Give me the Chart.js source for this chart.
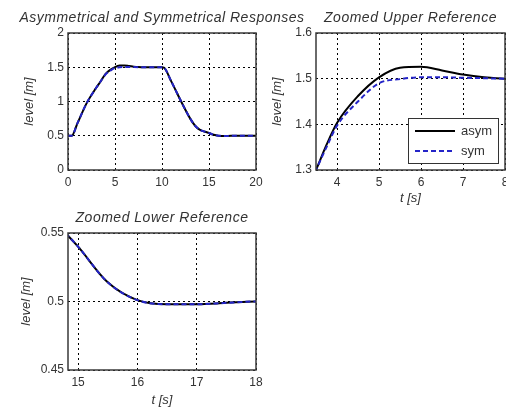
<!DOCTYPE html>
<html><head><meta charset="utf-8">
<script src="https://cdn.jsdelivr.net/npm/chart.js@4"></script>
<style>
html,body{margin:0;padding:0;background:#fff;}
#wrap{position:relative;width:506px;height:408px;overflow:hidden;}
canvas{position:absolute;left:0;top:0;}
</style></head><body>
<div id="wrap">
<canvas id="c1" width="506" height="408"></canvas>
<canvas id="c2" width="506" height="408"></canvas>
<canvas id="c3" width="506" height="408"></canvas>
</div>
<script>
// ---- data ----
const timeS = [0, 0.4, 1, 2, 3, 3.5, 3.75, 4, 4.5, 5, 5.5, 6, 6.5, 7, 7.5, 8, 10, 10.2, 11, 12, 12.5, 13, 13.5, 14, 14.5, 14.83, 15, 15.5, 16, 16.5, 17, 17.5, 18, 20];
const levelAsym = [0.5, 0.5, 0.68, 0.98, 1.2, 1.3, 1.355, 1.403, 1.462, 1.503, 1.524, 1.526, 1.518, 1.509, 1.503, 1.5, 1.5, 1.495, 1.29, 1.01, 0.875, 0.75, 0.65, 0.59, 0.562, 0.548, 0.54, 0.514, 0.501, 0.498, 0.498, 0.499, 0.5, 0.5];
const levelSym  = [0.5, 0.5, 0.68, 0.98, 1.2, 1.3, 1.35, 1.397, 1.45, 1.49, 1.499, 1.503, 1.503, 1.502, 1.501, 1.5, 1.5, 1.495, 1.29, 1.01, 0.875, 0.75, 0.65, 0.59, 0.562, 0.548, 0.54, 0.514, 0.501, 0.498, 0.498, 0.499, 0.5, 0.5];
const seriesLabels = ['asym', 'sym'];
const plotTitles = ['Asymmetrical and Symmetrical Responses', 'Zoomed Upper Reference', 'Zoomed Lower Reference'];
const xAxisTitle = 't [s]';
const yAxisTitle = 'level [m]';
const ticks1X = [0, 5, 10, 15, 20];
const ticks1Y = [0, 0.5, 1, 1.5, 2];
const ticks2X = [4, 5, 6, 7, 8];
const ticks2Y = [1.3, 1.4, 1.5, 1.6];
const ticks3X = [15, 16, 17, 18];
const ticks3Y = [0.45, 0.5, 0.55];
const range1X = [0, 20], range1Y = [0, 2];
const range2X = [3.5, 8], range2Y = [1.3, 1.6];
const range3X = [14.83, 18], range3Y = [0.45, 0.55];

const FONT = '"Liberation Sans", Arial, Helvetica, sans-serif';
const TXT = '#333';

const mframe = {
  id: 'mframe',
  afterDatasetsDraw(chart, args, opts) {
    const {ctx, chartArea: a} = chart;
    ctx.save();
    ctx.strokeStyle = '#3a3a3a';
    ctx.lineWidth = 1.5;
    ctx.strokeRect(a.left, a.top, a.right - a.left, a.bottom - a.top);
    ctx.fillStyle = TXT;
    ctx.font = 'italic 14px ' + FONT;
    ctx.letterSpacing = '0.5px';
    ctx.textAlign = 'center';
    ctx.textBaseline = 'middle';
    ctx.fillText(opts.title, (a.left + a.right) / 2, a.top - 15);
    ctx.letterSpacing = '0px';
    if (opts.legend) {
      const bx = a.right - 97, by = a.bottom - 52, bw = 90, bh = 45;
      ctx.fillStyle = '#fff';
      ctx.fillRect(bx, by, bw, bh);
      ctx.strokeStyle = '#333';
      ctx.lineWidth = 1;
      ctx.strokeRect(bx + 0.5, by + 0.5, bw, bh);
      const dsets = chart.data.datasets;
      seriesLabels.forEach((lab, i) => {
        const ds = dsets.find(d => d.label === lab);
        const yy = by + 13 + i * 20;
        ctx.strokeStyle = ds.borderColor;
        ctx.lineWidth = ds.borderWidth;
        ctx.setLineDash(ds.borderDash || []);
        ctx.beginPath(); ctx.moveTo(bx + 7, yy); ctx.lineTo(bx + 47, yy); ctx.stroke();
        ctx.setLineDash([]);
        ctx.fillStyle = TXT;
        ctx.font = '13px ' + FONT;
        ctx.textAlign = 'left';
        ctx.fillText(lab, bx + 53, yy);
      });
    }
    ctx.restore();
  }
};

function pts(ys) { return timeS.map((t, i) => ({x: t, y: ys[i]})); }

function makeChart(id, cfg) {
  const fixTicks = arr => scale => { scale.ticks = arr.map(v => ({value: v})); };
  const gridOpt = {color: '#000', lineWidth: 1, drawTicks: false};
  const borderOpt = {display: false, dash: [2, 3]};
  return new Chart(document.getElementById(id), {
    type: 'scatter',
    data: {
      datasets: [
        {label: seriesLabels[1], data: pts(levelSym), showLine: true, borderColor: '#2424c8', borderWidth: 2, borderDash: [5, 3], pointRadius: 0, cubicInterpolationMode: 'monotone', order: 0},
        {label: seriesLabels[0], data: pts(levelAsym), showLine: true, borderColor: '#000', borderWidth: 2, pointRadius: 0, cubicInterpolationMode: 'monotone', order: 1}
      ]
    },
    options: {
      responsive: false,
      animation: false,
      events: [],
      layout: {padding: cfg.pad},
      plugins: {legend: {display: false}, tooltip: {enabled: false}, title: {display: false},
        mframe: {title: cfg.title, legend: cfg.legend}},
      scales: {
        x: {
          type: 'linear', min: cfg.rx[0], max: cfg.rx[1],
          afterBuildTicks: fixTicks(cfg.tx),
          afterFit: s => { s.height = cfg.xh; s.paddingLeft = 0; s.paddingRight = 0; },
          grid: gridOpt, border: borderOpt,
          ticks: {color: TXT, font: {family: FONT, size: 12}, padding: 5, maxRotation: 0, autoSkip: false, callback: v => String(v)},
          title: {display: cfg.xTitle, text: xAxisTitle, color: TXT, font: {family: FONT, size: 13, style: 'italic'}, padding: 0}
        },
        y: {
          type: 'linear', min: cfg.ry[0], max: cfg.ry[1],
          afterBuildTicks: fixTicks(cfg.ty),
          afterFit: s => { s.width = cfg.yw; s.paddingTop = 0; s.paddingBottom = 0; },
          grid: gridOpt, border: borderOpt,
          ticks: {color: TXT, font: {family: FONT, size: 12}, padding: 4, autoSkip: false, callback: v => String(v)},
          title: {display: true, text: yAxisTitle, color: TXT, font: {family: FONT, size: 13, style: 'italic'}, padding: 0}
        }
      }
    },
    plugins: [mframe]
  });
}

makeChart('c1', {title: plotTitles[0], legend: false, rx: range1X, ry: range1Y, tx: ticks1X, ty: ticks1Y,
  pad: {left: 22, top: 33, right: 250, bottom: 202}, yw: 46, xh: 36, xTitle: false});
makeChart('c2', {title: plotTitles[1], legend: true, rx: range2X, ry: range2Y, tx: ticks2X, ty: ticks2Y,
  pad: {left: 270, top: 33, right: 1, bottom: 202}, yw: 46, xh: 36, xTitle: true});
makeChart('c3', {title: plotTitles[2], legend: false, rx: range3X, ry: range3Y, tx: ticks3X, ty: ticks3Y,
  pad: {left: 19, top: 233, right: 250, bottom: 0}, yw: 49, xh: 38, xTitle: true});
</script>
</body></html>
